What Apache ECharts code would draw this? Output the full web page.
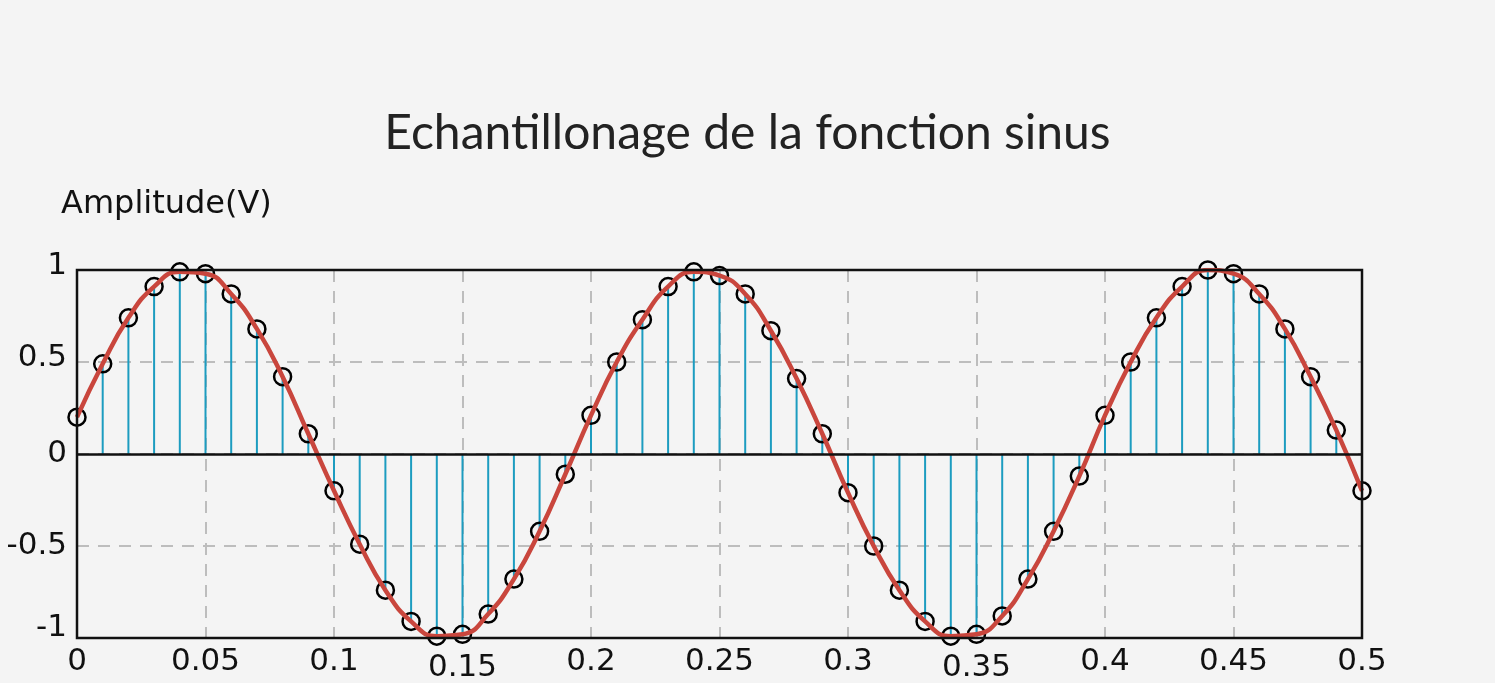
<!DOCTYPE html>
<html>
<head>
<meta charset="utf-8">
<title>Echantillonage de la fonction sinus</title>
<script src="https://cdn.jsdelivr.net/npm/echarts@6/dist/echarts.min.js"></script>
<style>
  html, body { margin: 0; padding: 0; background: #f4f4f4; }
  #chart { width: 1495px; height: 683px; }
</style>
</head>
<body>
<div id="chart"></div>
<script>
  // instants d'echantillonnage (s)
  const sampleTimes = [
    0, 0.01, 0.02, 0.03, 0.04, 0.05, 0.06, 0.07, 0.08, 0.09,
    0.1, 0.11, 0.12, 0.13, 0.14, 0.15, 0.16, 0.17, 0.18, 0.19,
    0.2, 0.21, 0.22, 0.23, 0.24, 0.25, 0.26, 0.27, 0.28, 0.29,
    0.3, 0.31, 0.32, 0.33, 0.34, 0.35, 0.36, 0.37, 0.38, 0.39,
    0.4, 0.41, 0.42, 0.43, 0.44, 0.45, 0.46, 0.47, 0.48, 0.49,
    0.5
  ]
  // amplitudes (V)
  const sampleValues = [
    0.2, 0.49, 0.74, 0.91, 0.99, 0.98, 0.87, 0.68, 0.42, 0.11,
    -0.2, -0.49, -0.74, -0.91, -0.99, -0.98, -0.87, -0.68, -0.42, -0.11,
    0.21, 0.5, 0.73, 0.91, 0.99, 0.97, 0.87, 0.67, 0.41, 0.11,
    -0.21, -0.5, -0.74, -0.91, -0.99, -0.98, -0.88, -0.68, -0.42, -0.12,
    0.21, 0.5, 0.74, 0.91, 1.0, 0.98, 0.87, 0.68, 0.42, 0.13,
    -0.2
  ]
  const xTickLabels = ['0', '0.05', '0.1', '0.15', '0.2', '0.25', '0.3', '0.35', '0.4', '0.45', '0.5']
  const yTickLabels = ['-1', '-0.5', '0', '0.5', '1']

  const points = sampleTimes.map((t, i) => [t, sampleValues[i]])

  const chart = echarts.init(document.getElementById('chart'), null, { renderer: 'canvas' })

  chart.setOption({
    backgroundColor: '#f4f4f4',
    animation: false,
    title: [
      {
        text: 'Echantillonage de la fonction sinus',
        left: 'center',
        top: 105,
        textStyle: {
          fontFamily: 'Lato',
          fontWeight: 'normal',
          fontSize: 48,
          color: '#222'
        }
      },
      {
        // nom de l'axe y
        text: 'Amplitude(V)',
        left: 56,
        top: 184,
        textStyle: {
          fontFamily: 'DejaVu Sans',
          fontWeight: 'normal',
          fontSize: 32,
          color: '#111'
        }
      }
    ],
    grid: {
      left: 77,
      right: 133,
      top: 270,
      bottom: 45,
      show: true,
      borderColor: '#111',
      borderWidth: 2.5,
      backgroundColor: 'transparent',
      z: 5
    },
    xAxis: {
      type: 'value',
      min: 0,
      max: 0.5,
      interval: 0.05,
      axisLine: { show: false },
      axisTick: { show: false },
      axisLabel: {
        margin: 8,
        color: '#111',
        fontFamily: 'DejaVu Sans',
        fontSize: 31,
        formatter: function (v) {
          const label = xTickLabels[Math.round(v / 0.05)]
          // 0.15 et 0.35 sont un peu plus bas sur l'original
          if (label === '0.15' || label === '0.35') {
            return '{low|' + label + '}'
          }
          return label
        },
        rich: {
          low: { fontFamily: 'DejaVu Sans', fontSize: 31, color: '#111', padding: [6, 0, 0, 0] }
        }
      },
      splitLine: {
        show: true,
        showMinLine: false,
        showMaxLine: false,
        lineStyle: { color: '#bdbdbd', width: 2, type: [12, 9] }
      }
    },
    yAxis: {
      type: 'value',
      min: -1,
      max: 1,
      interval: 0.5,
      axisLine: { show: false },
      axisTick: { show: false },
      axisLabel: {
        margin: 10,
        color: '#111',
        fontFamily: 'DejaVu Sans',
        fontSize: 31,
        formatter: function (v) {
          const label = yTickLabels[Math.round((v + 1) / 0.5)]
          if (label === '-1') return '{up11|' + label + '}'
          if (label === '1' || label === '0.5') return '{up4|' + label + '}'
          return label
        },
        rich: {
          up4: { fontFamily: 'DejaVu Sans', fontSize: 31, color: '#111', padding: [0, 0, 8, 0] },
          up11: { fontFamily: 'DejaVu Sans', fontSize: 31, color: '#111', padding: [0, 0, 20, 0] }
        }
      },
      splitLine: {
        show: true,
        showMinLine: false,
        showMaxLine: false,
        lineStyle: { color: '#bdbdbd', width: 2, type: [12, 9] }
      }
    },
    series: [
      {
        // tiges des echantillons
        name: 'tiges',
        type: 'bar',
        data: points,
        barWidth: 2,
        itemStyle: { color: '#1c9cc0' },
        z: 2,
        markLine: {
          silent: true,
          symbol: ['none', 'none'],
          label: { show: false },
          lineStyle: { color: '#111', type: 'solid', width: 2.5 },
          data: [{ yAxis: 0 }]
        }
      },
      {
        name: 'echantillons',
        type: 'scatter',
        data: points,
        symbol: 'circle',
        symbolSize: 17,
        itemStyle: {
          color: 'rgba(0,0,0,0)',
          borderColor: '#000',
          borderWidth: 2.5,
          opacity: 1
        },
        z: 3
      },
      {
        name: 'sinus',
        type: 'line',
        data: points,
        smooth: 0.5,
        showSymbol: false,
        lineStyle: { color: '#c9463d', width: 4.5 },
        z: 4
      }
    ]
  })
</script>
</body>
</html>
